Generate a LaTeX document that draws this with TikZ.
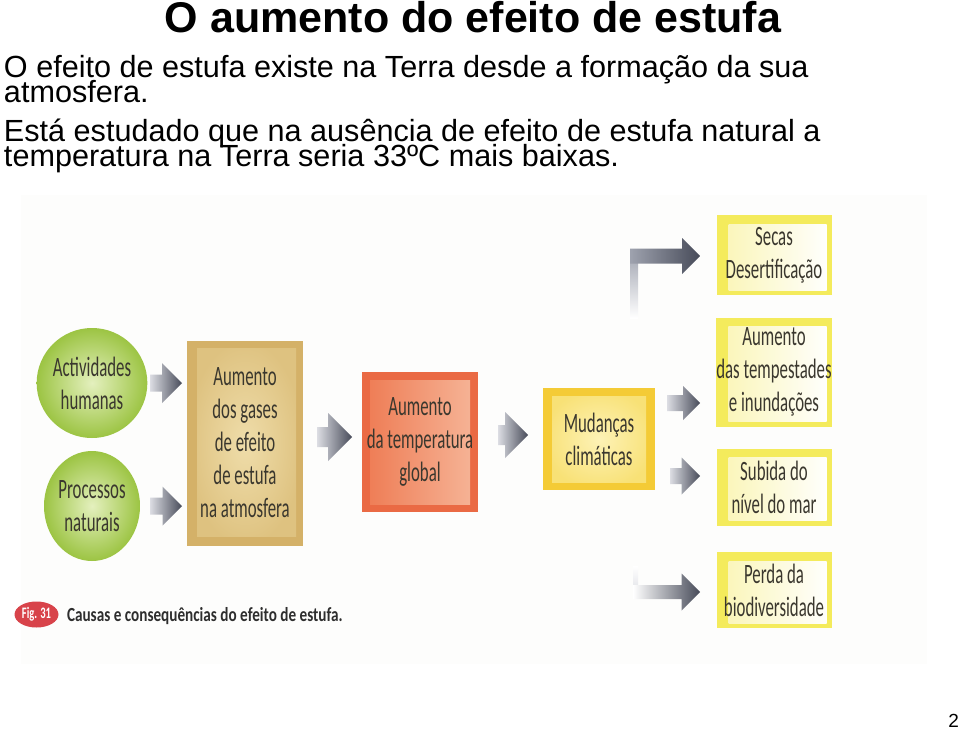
\documentclass[tikz,border=0pt]{standalone}
\usepackage{fontspec}
\setmainfont{Liberation Sans}
\newfontfamily\diagfont{Carlito}[FakeStretch=0.6]
\newfontfamily\captfont{Carlito}[FakeStretch=0.76]
\newfontfamily\figfont{Carlito}[FakeStretch=0.66]
\usetikzlibrary{shapes.geometric,calc}
\definecolor{dtxt}{HTML}{3A372E}
\definecolor{picbg}{HTML}{FDFDFC}
\definecolor{arrdark}{HTML}{474B59}
\definecolor{arrlight}{HTML}{DCDDE3}
\definecolor{arrmid}{HTML}{9EA2AE}
\definecolor{greenout}{HTML}{9CC443}
\definecolor{greenin}{HTML}{E4F0BE}
\definecolor{tanout}{HTML}{D4B168}
\definecolor{tanin}{HTML}{EFDDAA}
\definecolor{tanmid}{HTML}{DEC280}
\definecolor{orout}{HTML}{EA6A44}
\definecolor{orleft}{HTML}{EE7A52}
\definecolor{orright}{HTML}{F6B699}
\definecolor{ylout}{HTML}{F4CB36}
\definecolor{ylin}{HTML}{FDF2B6}
\definecolor{ylmid}{HTML}{F8E176}
\definecolor{lemon}{HTML}{F4EB5C}
\definecolor{lemonin}{HTML}{FAF5B4}
\definecolor{figred}{HTML}{D8434A}
\definecolor{capt}{HTML}{2E2E2E}
% fat arrow: #1 shading options, #2 tail x, #3 tip x, #4 y, #5 half shaft, #6 half head
\newcommand\fatarr[6]{%
  \shade[#1] (#2,{#4-#5}) -- ({#3-#6},{#4-#5}) -- ({#3-#6},{#4-#6}) -- (#3,#4)
    -- ({#3-#6},{#4+#6}) -- ({#3-#6},{#4+#5}) -- (#2,{#4+#5}) -- cycle;}
\begin{document}
\begin{tikzpicture}[x=1pt,y=-1pt,
  every node/.style={inner sep=0pt,outer sep=0pt},
  dtext/.style={text=dtxt,align=center,font=\diagfont\fontsize{28pt}{33pt}\selectfont},
  bodyline/.style={anchor=base west,font=\fontsize{30.6pt}{36pt}\selectfont},
  causecirc/.style={ellipse,minimum width=96pt,minimum height=110pt,
    inner color=greenin,outer color=greenout,dtext},
  tanbox/.style={rectangle,fill=tanout,dtext,
    path picture={\shade[inner color=tanin,outer color=tanmid]
      ($(path picture bounding box.north west)+(10,8)$) rectangle
      ($(path picture bounding box.south east)+(-7,-9)$);}},
  orbox/.style={rectangle,fill=orout,dtext,
    path picture={\shade[left color=orleft,right color=orright]
      ($(path picture bounding box.north west)+(8,8)$) rectangle
      ($(path picture bounding box.south east)+(-8,-8)$);}},
  ylbox/.style={rectangle,fill=ylout,dtext,
    path picture={\shade[inner color=ylin,outer color=ylmid]
      ($(path picture bounding box.north west)+(9,8)$) rectangle
      ($(path picture bounding box.south east)+(-9,-8)$);}},
  effbox/.style={rectangle,fill=lemon,dtext,minimum width=115pt,
    path picture={\shade[left color=lemonin,right color=white]
      ($(path picture bounding box.north west)+(12,9)$) rectangle
      ($(path picture bounding box.south east)+(-5,-5)$);}},
  arrshade/.style={left color=arrlight,right color=arrdark},
  arrshadelong/.style={left color=arrmid,right color=arrdark},
  arrshadefaint/.style={left color=white,right color=arrdark}
]
\useasboundingbox (0,0) rectangle (960,730);
\fill[white] (0,0) rectangle (960,730);
\fill[picbg] (21,195) rectangle (927,664);

% heading and text
\node[anchor=base,font=\fontsize{43pt}{43pt}\selectfont\bfseries] (title) at (473,33) {O aumento do efeito de estufa};
\node[bodyline] (l1) at (4,78) {O efeito de estufa existe na Terra desde a formação da sua};
\node[bodyline] (l2) at (4,103) {atmosfera.};
\node[bodyline] (l3) at (4,142) {Está estudado que na ausência de efeito de estufa natural a};
\node[bodyline] (l4) at (4,167) {temperatura na Terra seria 33ºC mais baixas.};

% causes
\node[causecirc] (c1) at (92,383) {Actividades\\humanas};
\node[causecirc] (c2) at (92,506) {Processos\\naturais};

% chain
\node[tanbox,minimum width=116pt,minimum height=205pt] (b1) at (245,443)
  {Aumento\\dos gases\\de efeito\\de estufa\\na atmosfera};
\node[orbox,minimum width=116pt,minimum height=140pt] (b2) at (420,442)
  {Aumento\\da temperatura\\global};
\node[ylbox,minimum width=112pt,minimum height=102pt] (b3) at (599,439)
  {Mudanças\\climáticas};

% effects
\node[effbox,minimum height=80pt] (e1) at (774,255) {Secas\\Desertificação};
\node[effbox,minimum height=109pt] (e2) at (774,372) {Aumento\\das tempestades\\e inundações};
\node[effbox,minimum height=77pt] (e3) at (774,487) {Subida do\\nível do mar};
\node[effbox,minimum height=76pt] (e4) at (774,590) {Perda da\\biodiversidade};

% arrows
\fatarr{arrshade}{150}{182}{383}{8.5}{20}
\fatarr{arrshade}{150}{182}{506}{8.5}{19.5}
\fatarr{arrshade}{317}{352}{437}{10}{24}
\fatarr{arrshade}{498}{528}{435}{10}{23}
\fatarr{arrshade}{667}{700}{403}{8}{17}
\fatarr{arrshade}{670}{700}{476}{8}{18.5}

% L-shaped arrow to Secas
\shade[top color=arrmid,bottom color=white] (630,250) rectangle (638,318);
\fatarr{arrshadelong}{630}{700}{256}{7.5}{18}
% arrow to Perda
\shade[top color=white,bottom color=arrlight] (633,566) rectangle (638,596);
\fatarr{arrshadefaint}{633}{700}{592}{7}{18.5}

% caption
\node[ellipse,fill=figred,minimum width=44pt,minimum height=26pt,inner sep=-4pt,text=white,
  font=\figfont\bfseries\fontsize{16pt}{16pt}\selectfont] (fig) at (36.5,614.5) {Fig. 31};
\node[anchor=base west,text=capt,font=\captfont\bfseries\fontsize{20pt}{20pt}\selectfont] (cap) at (67,621)
  {Causas e consequências do efeito de estufa.};

% page number
\node[anchor=base east,font=\fontsize{19pt}{19pt}\selectfont] (pg) at (959,727) {2};
\end{tikzpicture}
\end{document}
